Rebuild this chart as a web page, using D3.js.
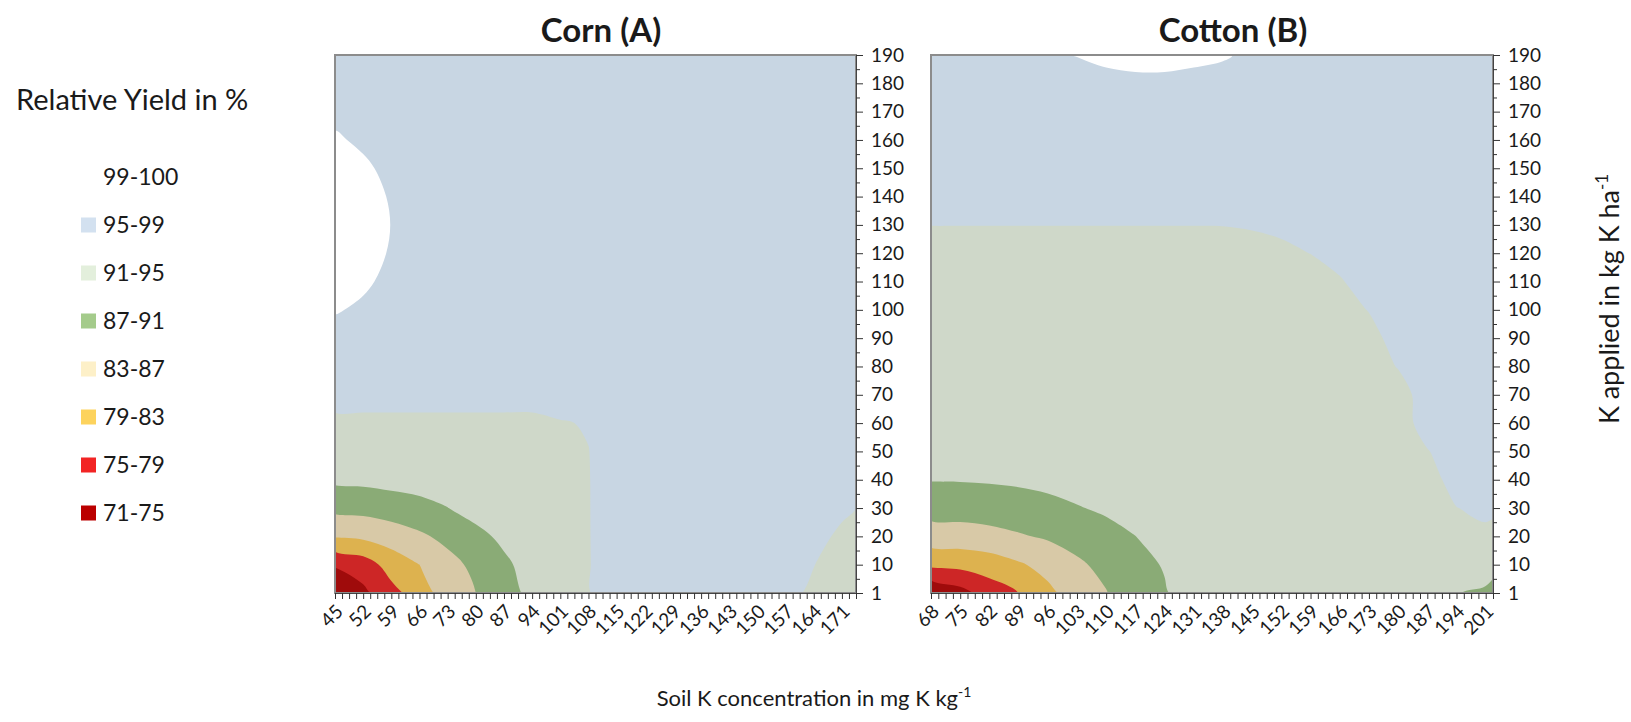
<!DOCTYPE html>
<html>
<head>
<meta charset="utf-8">
<script src="https://cdn.jsdelivr.net/npm/d3@7"></script>
<style>
  body { margin: 0; background: #fff; }
  svg text { font-family: Lato, "Open Sans", sans-serif; fill: #1a1a1a; }
</style>
</head>
<body>
<svg id="chart"></svg>
<script>
// yield classes: lower bound of each band, label, map colour, legend colour
const thresholds = [71, 75, 79, 83, 87, 91, 95, 99];
const bandLabels = ["71-75", "75-79", "79-83", "83-87", "87-91", "91-95", "95-99", "99-100"];
const fillColors = ["#9f0b0b", "#cd2626", "#ddb24f", "#d8c9a7", "#8aab76", "#cfd8c9", "#c8d6e3", "#ffffff"];
const legendColors = ["#bb0000", "#f22424", "#fdd35d", "#fdf0c8", "#a4cb8b", "#e3efdc", "#d3e1f0", "#ffffff"];

// axis categories
const kApplied = [1, 10, 20, 30, 40, 50, 60, 70, 80, 90, 100, 110, 120, 130, 140, 150, 160, 170, 180, 190];
const cornSoilK = [45, 52, 59, 66, 73, 80, 87, 94, 101, 108, 115, 122, 129, 136, 143, 150, 157, 164, 171];
const cottonSoilK = [68, 75, 82, 89, 96, 103, 110, 117, 124, 131, 138, 145, 152, 159, 166, 173, 180, 187, 194, 201];

// relative yield (%); rows run from 190 (top) down to 1 kg K/ha
const cornYield = [
  [98.0, 97.9, 97.8, 97.6, 97.5, 97.4, 97.4, 97.4, 97.4, 97.4, 97.4, 97.4, 97.4, 97.4, 97.4, 97.3, 97.2, 97.1, 97.0],
  [98.3, 98.2, 98.0, 97.7, 97.5, 97.4, 97.4, 97.4, 97.4, 97.4, 97.4, 97.4, 97.4, 97.4, 97.4, 97.3, 97.2, 97.1, 97.0],
  [98.7, 98.5, 98.2, 97.8, 97.5, 97.4, 97.4, 97.4, 97.4, 97.4, 97.4, 97.4, 97.4, 97.4, 97.4, 97.3, 97.2, 97.1, 97.0],
  [99.15, 98.8, 98.4, 97.9, 97.6, 97.4, 97.4, 97.4, 97.4, 97.4, 97.4, 97.4, 97.4, 97.4, 97.4, 97.3, 97.2, 97.1, 97.0],
  [99.6, 99.2, 98.7, 98.0, 97.6, 97.4, 97.4, 97.4, 97.4, 97.4, 97.4, 97.4, 97.4, 97.4, 97.4, 97.3, 97.2, 97.1, 97.0],
  [99.9, 99.45, 98.9, 98.1, 97.6, 97.4, 97.4, 97.4, 97.4, 97.4, 97.4, 97.4, 97.4, 97.4, 97.4, 97.3, 97.2, 97.1, 97.0],
  [100.0, 99.5, 98.98, 98.1, 97.6, 97.4, 97.4, 97.4, 97.4, 97.4, 97.4, 97.4, 97.4, 97.4, 97.4, 97.3, 97.2, 97.1, 97.0],
  [99.9, 99.45, 98.9, 98.1, 97.6, 97.4, 97.4, 97.4, 97.4, 97.4, 97.4, 97.4, 97.4, 97.4, 97.4, 97.3, 97.2, 97.1, 97.0],
  [99.6, 99.2, 98.7, 98.0, 97.6, 97.4, 97.4, 97.4, 97.4, 97.4, 97.4, 97.4, 97.4, 97.4, 97.4, 97.3, 97.2, 97.1, 97.0],
  [99.1, 98.8, 98.4, 97.9, 97.5, 97.4, 97.4, 97.4, 97.4, 97.4, 97.4, 97.4, 97.4, 97.4, 97.4, 97.3, 97.2, 97.1, 97.0],
  [98.5, 98.2, 97.9, 97.7, 97.4, 97.3, 97.3, 97.3, 97.2, 97.1, 97.2, 97.3, 97.3, 97.3, 97.3, 97.2, 97.1, 97.0, 96.9],
  [97.6, 97.5, 97.4, 97.3, 97.2, 97.1, 97.1, 97.1, 97.0, 96.9, 97.0, 97.1, 97.2, 97.2, 97.2, 97.1, 97.0, 96.9, 96.8],
  [96.5, 96.5, 96.5, 96.5, 96.5, 96.5, 96.5, 96.5, 96.5, 96.6, 96.8, 96.9, 97.0, 97.0, 97.0, 96.9, 96.8, 96.7, 96.6],
  [94.1, 94.1, 94.1, 94.1, 94.1, 94.1, 94.1, 94.1, 94.8, 95.2, 96.7, 96.8, 96.9, 96.9, 96.9, 96.8, 96.7, 96.6, 96.5],
  [92.5, 92.5, 92.5, 92.5, 92.5, 92.5, 92.5, 92.5, 94.3, 94.95, 96.6, 96.7, 96.8, 96.8, 96.8, 96.7, 96.6, 96.4, 96.2],
  [91.74, 91.89, 92.31, 92.5, 92.5, 92.5, 92.5, 92.5, 94.2, 94.9, 96.5, 96.6, 96.8, 96.8, 96.7, 96.6, 96.5, 96.2, 95.8],
  [88.01, 88.26, 88.93, 89.88, 90.95, 92.37, 92.5, 92.5, 94.2, 94.9, 96.4, 96.6, 96.8, 96.8, 96.7, 96.6, 96.4, 95.9, 95.3],
  [83.33, 83.8, 84.96, 86.33, 88.07, 89.99, 91.79, 92.5, 94.2, 94.9, 96.3, 96.6, 96.8, 96.8, 96.7, 96.5, 96.2, 95.5, 94.7],
  [75.4, 77.0, 80.62, 82.99, 85.68, 87.95, 90.3, 92.45, 94.2, 94.9, 96.1, 96.5, 96.7, 96.7, 96.6, 96.4, 95.9, 95.05, 94.0],
  [71.2, 74.1, 77.8, 80.8, 85.2, 87.0, 89.4, 92.0, 94.2, 94.9, 96.0, 96.5, 96.6, 96.6, 96.5, 96.3, 95.6, 94.6, 93.5]
];

const cottonYield = [
  [97.6, 97.8, 98.0, 98.3, 98.7, 99.05, 99.4, 99.6, 99.6, 99.4, 99.2, 98.6, 98.2, 97.9, 97.7, 97.6, 97.5, 97.4, 97.4, 97.3],
  [97.5, 97.7, 97.9, 98.1, 98.2, 98.3, 98.5, 98.6, 98.6, 98.5, 98.3, 98.1, 97.9, 97.7, 97.6, 97.5, 97.5, 97.4, 97.4, 97.3],
  [97.4, 97.6, 97.8, 98.0, 98.1, 98.2, 98.3, 98.3, 98.3, 98.2, 98.1, 97.9, 97.7, 97.6, 97.5, 97.5, 97.5, 97.4, 97.4, 97.3],
  [97.3, 97.4, 97.6, 97.7, 97.8, 97.9, 97.9, 97.9, 97.9, 97.9, 97.8, 97.6, 97.5, 97.4, 97.4, 97.4, 97.4, 97.4, 97.4, 97.3],
  [97.0, 97.1, 97.2, 97.2, 97.3, 97.3, 97.3, 97.3, 97.3, 97.3, 97.2, 97.2, 97.2, 97.2, 97.2, 97.3, 97.3, 97.3, 97.3, 97.3],
  [96.5, 96.5, 96.5, 96.5, 96.5, 96.5, 96.5, 96.5, 96.5, 96.5, 96.5, 96.6, 96.7, 96.8, 96.9, 97.0, 97.1, 97.2, 97.2, 97.2],
  [95.05, 95.05, 95.05, 95.05, 95.05, 95.05, 95.05, 95.05, 95.05, 95.05, 95.08, 95.3, 95.75, 96.5, 96.7, 96.9, 97.0, 97.1, 97.1, 97.1],
  [93.5, 93.5, 93.5, 93.5, 93.5, 93.5, 93.5, 93.5, 93.5, 93.5, 93.5, 93.8, 94.25, 95.05, 96.2, 96.6, 96.8, 96.9, 97.0, 97.0],
  [93.5, 93.5, 93.5, 93.5, 93.5, 93.5, 93.5, 93.5, 93.5, 93.5, 93.5, 93.5, 93.5, 93.5, 94.7, 96.5, 96.6, 96.7, 96.8, 96.9],
  [93.5, 93.5, 93.5, 93.5, 93.5, 93.5, 93.5, 93.5, 93.5, 93.5, 93.5, 93.5, 93.5, 93.5, 93.5, 95.15, 96.5, 96.6, 96.7, 96.8],
  [93.5, 93.5, 93.5, 93.5, 93.5, 93.5, 93.5, 93.5, 93.5, 93.5, 93.5, 93.5, 93.5, 93.5, 93.5, 93.65, 96.5, 96.5, 96.6, 96.7],
  [93.5, 93.5, 93.5, 93.5, 93.5, 93.5, 93.5, 93.5, 93.5, 93.5, 93.5, 93.5, 93.5, 93.5, 93.5, 93.5, 95.15, 96.5, 96.5, 96.6],
  [93.5, 93.5, 93.5, 93.5, 93.5, 93.5, 93.5, 93.5, 93.5, 93.5, 93.5, 93.5, 93.5, 93.5, 93.5, 93.5, 93.65, 96.5, 96.5, 96.5],
  [93.5, 93.5, 93.5, 93.5, 93.5, 93.5, 93.5, 93.5, 93.5, 93.5, 93.5, 93.5, 93.5, 93.5, 93.5, 93.5, 93.5, 96.35, 96.5, 96.5],
  [92.72, 92.75, 92.9, 93.1, 93.5, 93.5, 93.5, 93.5, 93.5, 93.5, 93.5, 93.5, 93.5, 93.5, 93.5, 93.5, 93.5, 94.85, 96.5, 96.5],
  [91.16, 91.2, 91.34, 91.58, 91.94, 92.42, 93.06, 93.5, 93.5, 93.5, 93.5, 93.5, 93.5, 93.5, 93.5, 93.5, 93.5, 93.5, 96.43, 96.5],
  [88.6, 88.68, 88.93, 89.36, 89.99, 90.79, 91.53, 92.52, 93.5, 93.5, 93.5, 93.5, 93.5, 93.5, 93.5, 93.5, 93.5, 93.5, 94.93, 95.75],
  [85.12, 85.28, 85.79, 86.63, 87.48, 88.47, 89.82, 90.97, 92.78, 93.5, 93.5, 93.5, 93.5, 93.5, 93.5, 93.5, 93.5, 93.5, 93.5, 94.25],
  [79.86, 80.13, 80.97, 82.54, 84.21, 86.38, 88.02, 89.99, 91.22, 93.2, 93.5, 93.5, 93.5, 93.5, 93.5, 93.5, 93.5, 93.5, 92.8, 92.5],
  [71.2, 73.58, 76.86, 79.02, 82.14, 84.72, 86.83, 89.01, 90.71, 92.63, 93.5, 93.5, 93.5, 93.5, 93.5, 93.5, 93.5, 92.6, 91.1, 90.5]
];

const width = 1631, height = 722;

const svg = d3.select("#chart").attr("width", width).attr("height", height);

const drawPanel = (p) => {
  const nx = p.xLabels.length,
    ny = kApplied.length;

  const x = d3.scaleLinear().domain([0, p.xEnd]).range([p.left, p.right]);
  const y = d3.scaleLinear().domain([0, ny - 1]).range([p.bottom, p.top]);

  const g = svg.append("g").attr("class", `panel-${p.id}`);

  g.append("clipPath")
    .attr("id", `clip-${p.id}`)
    .append("rect")
    .attr("x", p.left)
    .attr("y", p.top)
    .attr("width", p.right - p.left)
    .attr("height", p.bottom - p.top);

  // filled contour bands
  const bands = d3.contours().size([nx, ny]).thresholds(thresholds)(p.grid.flat());

  // grid value i sits at contour coordinate i + 0.5; rows are stored top-down
  const ring = d3
    .line()
    .x((d) => x(d[0] - 0.5))
    .y((d) => y(ny - 1 - (d[1] - 0.5)))
    .curve(d3.curveCatmullRomClosed.alpha(0.5));

  g.append("g")
    .attr("clip-path", `url(#clip-${p.id})`)
    .selectAll("path")
    .data(bands)
    .join("path")
    .attr("fill-rule", "evenodd")
    .attr("fill", (d, i) => fillColors[i])
    .attr("d", (d) =>
      d.coordinates
        .map((poly) => poly.map((r) => ring(r.slice(0, -1))).join(""))
        .join("")
    );

  // plot frame
  g.append("rect")
    .attr("x", p.left)
    .attr("y", p.top)
    .attr("width", p.right - p.left)
    .attr("height", p.bottom - p.top)
    .attr("fill", "none")
    .attr("stroke", "#8c8c8c")
    .attr("stroke-width", 2);

  // x axis: a tick every quarter step, label on each category
  const xAxis = d3
    .axisBottom(x)
    .tickValues(d3.range(0, p.xEnd + 1e-6, 0.25))
    .tickSize(6)
    .tickSizeOuter(0)
    .tickFormat((d) => (Number.isInteger(d) && d < nx ? p.xLabels[d] : ""));

  const gx = g
    .append("g")
    .attr("transform", `translate(0,${p.bottom})`)
    .call(xAxis)
    .attr("font-size", 19);

  gx.select(".domain").attr("stroke", "#444");
  gx.selectAll(".tick line").attr("stroke", "#333");
  gx.selectAll(".tick text")
    .attr("x", null)
    .attr("y", null)
    .attr("dy", "0.35em")
    .attr("text-anchor", "end")
    .attr("transform", "translate(4,15) rotate(-45)");

  // y axis on the right side
  const yAxis = d3
    .axisRight(y)
    .tickValues(d3.range(0, ny - 0.99, 0.5))
    .tickSize(7)
    .tickSizeOuter(0)
    .tickPadding(8)
    .tickFormat((d) => (Number.isInteger(d) ? kApplied[d] : ""));

  const gy = g
    .append("g")
    .attr("transform", `translate(${p.right},0)`)
    .call(yAxis)
    .attr("font-size", 19);

  gy.select(".domain").attr("stroke", "#444");
  gy.selectAll(".tick line").attr("stroke", "#333");
  gy.selectAll(".tick")
    .filter((d) => !Number.isInteger(d))
    .select("line")
    .attr("x2", 4);

  // panel title
  g.append("text")
    .attr("x", p.titleX)
    .attr("y", 42)
    .attr("text-anchor", "middle")
    .attr("font-size", 33)
    .attr("font-weight", "bold")
    .text(p.title);
};

drawPanel({
  id: "corn",
  title: "Corn (A)",
  titleX: 601,
  grid: cornYield,
  xLabels: cornSoilK,
  xEnd: 18.5,
  left: 335,
  right: 856,
  top: 55,
  bottom: 593,
});

drawPanel({
  id: "cotton",
  title: "Cotton (B)",
  titleX: 1233,
  grid: cottonYield,
  xLabels: cottonSoilK,
  xEnd: 19.25,
  left: 931,
  right: 1493,
  top: 55,
  bottom: 593,
});

// legend
const legend = svg.append("g").attr("class", "legend");

legend
  .append("text")
  .attr("x", 16)
  .attr("y", 110)
  .attr("font-size", 29)
  .text("Relative Yield in %");

const items = legend
  .selectAll("g.item")
  .data(d3.range(thresholds.length).reverse())
  .join("g")
  .attr("class", "item")
  .attr("transform", (d, i) => `translate(0,${177 + i * 48})`);

items
  .append("rect")
  .attr("x", 81)
  .attr("y", -7.5)
  .attr("width", 15)
  .attr("height", 15)
  .attr("fill", (d) => legendColors[d]);

items
  .append("text")
  .attr("x", 103)
  .attr("dy", "0.36em")
  .attr("font-size", 23)
  .text((d) => bandLabels[d]);

// axis titles
const xTitle = svg
  .append("text")
  .attr("x", 814)
  .attr("y", 706)
  .attr("text-anchor", "middle")
  .attr("font-size", 22)
  .text("Soil K concentration in mg K kg");
xTitle.append("tspan").attr("dy", -9).attr("font-size", 14).text("-1");

const yTitle = svg
  .append("text")
  .attr("transform", "translate(1619,299) rotate(-90)")
  .attr("text-anchor", "middle")
  .attr("font-size", 27)
  .text("K applied in kg K ha");
yTitle.append("tspan").attr("dy", -11).attr("font-size", 17).text("-1");
</script>
</body>
</html>
